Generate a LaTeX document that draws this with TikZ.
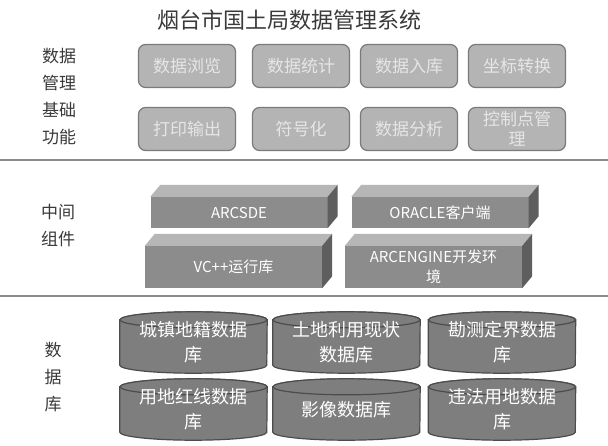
\documentclass[tikz,border=0pt]{standalone}
\usepackage{fontspec}
\setmainfont{Noto Sans CJK SC}
\usetikzlibrary{calc}
\pgfdeclarelayer{bg}
\pgfsetlayers{bg,main}
\definecolor{labelc}{HTML}{3A3A3A}
\definecolor{funcfill}{HTML}{B4B4B4}
\definecolor{funcedge}{HTML}{7A7A7A}
\definecolor{functext}{HTML}{E6E6E6}
\definecolor{midfront}{HTML}{8C8C8C}
\definecolor{midtop}{HTML}{B6B6B6}
\definecolor{midside}{HTML}{5E5E5E}
\definecolor{cylfill}{HTML}{7E7E7E}
\definecolor{cyledge}{HTML}{4C4C4C}
\definecolor{sepc}{HTML}{8A8A8A}
\begin{document}
\begin{tikzpicture}[x=1pt,y=-1pt,
  titlestyle/.style={font=\fontsize{22}{26}\selectfont, text=labelc, inner sep=0},
  sidelabel/.style={font=\fontsize{17}{27}\selectfont, text=labelc, align=center, inner sep=0},
  func/.style={rectangle, rounded corners=7pt, draw=funcedge, line width=1.2pt, fill=funcfill,
    minimum width=97pt, minimum height=43pt, text=functext, font=\fontsize{17}{20}\selectfont,
    align=center, inner sep=2pt},
  midbox/.style={rectangle, fill=midfront, text=white, font=\fontsize{15}{20}\selectfont,
    align=center, inner sep=1pt, minimum width=177pt},
  cyl/.style={rectangle, minimum width=147pt, minimum height=61pt, inner sep=0, text=white,
    font=\fontsize{18}{25}\selectfont, align=center},
  cylbody/.style={fill=cylfill, draw=cyledge, line width=1.2pt},
  sepline/.style={draw=sepc, line width=1.6pt}
]
\useasboundingbox (0,0) rectangle (608,445);
\begin{pgfonlayer}{bg}
\fill[white] (0,0) rectangle (608,445);
\end{pgfonlayer}

% title
\node[titlestyle] (title) at (289,20) {烟台市国土局数据管理系统};

% left labels
\node[sidelabel] (lab1) at (59,97) {数据\\管理\\基础\\功能};
\node[sidelabel] (lab2) at (58,226) {中间\\组件};
\node[sidelabel] (lab3) at (53,377) {数\\据\\库};

% top function boxes
\node[func] (f1) at (187,66) {数据浏览};
\node[func] (f2) at (301,66) {数据统计};
\node[func] (f3) at (409,66) {数据入库};
\node[func] (f4) at (517,66) {坐标转换};
\node[func] (f5) at (187,129) {打印输出};
\node[func] (f6) at (301,129) {符号化};
\node[func] (f7) at (409,129) {数据分析};
\node[func] (f8) at (517,129) {控制点管\\理};

% separators
\coordinate (s1a) at (0,160);
\coordinate (s1b) at (608,160);
\coordinate (s2a) at (0,296);
\coordinate (s2b) at (608,296);
\draw[sepline] (s1a) -- (s1b);
\draw[sepline] (s2a) -- (s2b);

% middle components
\node[midbox, minimum height=31pt] (m1) at (239,212.5) {ARCSDE};
\node[midbox, minimum height=31pt] (m2) at (440,212.5) {ORACLE客户端};
\node[midbox, minimum height=42pt] (m3) at (233.5,267) {VC++运行库};
\node[midbox, minimum height=42pt] (m4) at (433.5,267) {ARCENGINE开发环\\境};
\foreach \m in {m1,m2,m3,m4} {
  \fill[midtop] (\m.north west) -- ++(10,-12) -- ($(\m.north east)+(10,-12)$) -- (\m.north east) -- cycle;
  \fill[midside] (\m.north east) -- ++(10,-12) -- ($(\m.south east)+(10,-12)$) -- (\m.south east) -- cycle;
}

% databases
\node[cyl] (c1) at (193.5,342.5) {城镇地籍数据\\库};
\node[cyl] (c2) at (346.5,342.5) {土地利用现状\\数据库};
\node[cyl] (c3) at (502,342.5) {勘测定界数据\\库};
\node[cyl] (c4) at (193.5,409.5) {用地红线数据\\库};
\node[cyl] (c5) at (346.5,409.5) {影像数据库};
\node[cyl] (c6) at (502,409.5) {违法用地数据\\库};
\begin{pgfonlayer}{bg}
\foreach \c in {c1,c2,c3,c4,c5,c6} {
  \filldraw[cylbody] ($(\c.north west)+(0,8)$) -- ($(\c.south west)+(0,-8)$)
    arc[start angle=180,end angle=0,x radius=73.5,y radius=8]
    -- ($(\c.north east)+(0,8)$)
    arc[start angle=0,end angle=-180,x radius=73.5,y radius=8] -- cycle;
  \filldraw[cylbody] ($(\c.north)+(0,8)$) ellipse[x radius=73.5,y radius=8];
}
\end{pgfonlayer}
\end{tikzpicture}
\end{document}
